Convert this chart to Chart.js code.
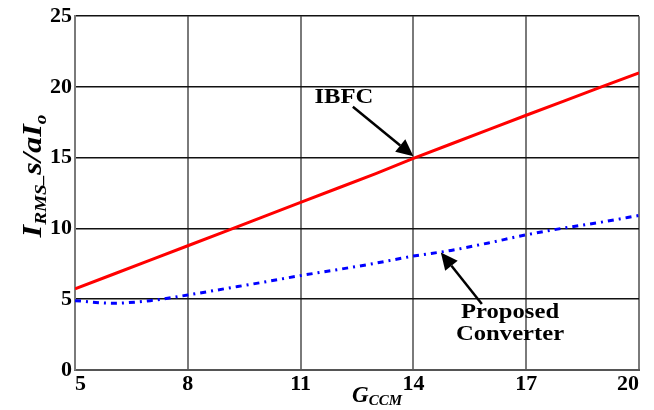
<!DOCTYPE html>
<html lang="en">
  <head>
    <meta charset="UTF-8" />
    <title>IRMS vs GCCM</title>
    <script src="https://cdn.jsdelivr.net/npm/chart.js"></script>
    <style>
      html, body {
        margin: 0;
        padding: 0;
        background: white;
      }
      #wrap {
        width: 654px;
        height: 410px;
      }
    </style>
  </head>
  <body>
    <div id="wrap"><canvas id="chart" width="654" height="410"></canvas></div>

    <script>
      const gValues = [5, 6, 7, 8, 9, 10, 11, 12, 13, 14, 15, 16, 17, 18, 19, 20];
      const ibfc = [5.74, 6.75, 7.77, 8.78, 9.8, 10.82, 11.84, 12.86, 13.88, 14.95, 15.97, 16.98, 18.0, 19.0, 20.0, 21.0];
      const proposed = [4.9, 4.72, 4.9, 5.3, 5.75, 6.2, 6.67, 7.1, 7.55, 8.05, 8.45, 8.98, 9.55, 10.03, 10.45, 10.92];
      const xTicks = [5, 8, 11, 14, 17, 20];
      const yTicks = [0, 5, 10, 15, 20, 25];

      const serif = "'Liberation Serif', 'Times New Roman', serif";

      function arrow(ctx, x1, y1, x2, y2) {
        const ang = Math.atan2(y2 - y1, x2 - x1);
        const head = 17;
        const hw = 8;
        const bx = x2 - head * Math.cos(ang);
        const by = y2 - head * Math.sin(ang);
        ctx.strokeStyle = "black";
        ctx.fillStyle = "black";
        ctx.lineWidth = 2.5;
        ctx.beginPath();
        ctx.moveTo(x1, y1);
        ctx.lineTo(bx, by);
        ctx.stroke();
        ctx.beginPath();
        ctx.moveTo(x2, y2);
        ctx.lineTo(bx + hw * Math.sin(ang), by - hw * Math.cos(ang));
        ctx.lineTo(bx - hw * Math.sin(ang), by + hw * Math.cos(ang));
        ctx.closePath();
        ctx.fill();
      }

      // text pieces [text, size, baselineShift] centred on cx
      function richText(ctx, parts, cx, baseY) {
        let total = 0;
        parts.forEach((p) => {
          ctx.font = "italic bold " + p[1] + "px " + serif;
          total += ctx.measureText(p[0]).width;
        });
        let x = cx - total / 2;
        ctx.textAlign = "left";
        ctx.textBaseline = "alphabetic";
        parts.forEach((p) => {
          ctx.font = "italic bold " + p[1] + "px " + serif;
          ctx.fillText(p[0], x, baseY + p[2]);
          x += ctx.measureText(p[0]).width;
        });
      }

      // wide bold label like the original figure
      function wideLabel(ctx, text, x, y) {
        ctx.save();
        ctx.translate(x, y);
        ctx.scale(1.12, 1);
        ctx.font = "bold 22px " + serif;
        ctx.textAlign = "center";
        ctx.textBaseline = "middle";
        ctx.fillText(text, 0, 0);
        ctx.restore();
      }

      const extras = {
        id: "extras",
        afterDraw(chart) {
          const ctx = chart.ctx;
          const xs = chart.scales.x;
          const ys = chart.scales.y;
          const px = (v) => xs.getPixelForValue(v);
          const py = (v) => ys.getPixelForValue(v);
          ctx.save();
          ctx.fillStyle = "black";

          // axis titles
          richText(ctx, [["G", 23, 0], ["CCM", 15, 3]], 377, 402);
          ctx.save();
          ctx.translate(41, 176);
          ctx.rotate(-Math.PI / 2);
          ctx.scale(1.2, 1);
          richText(ctx, [["I", 27, 0], ["RMS", 16, 5], ["_", 16, 1], ["s/aI", 27, 0], ["o", 16, 5]], 0, 0);
          ctx.restore();

          // annotations
          wideLabel(ctx, "IBFC", px(12.15), py(19.25));
          arrow(ctx, px(12.39), py(18.6), px(14.0), py(15.1));

          wideLabel(ctx, "Proposed", px(16.57), py(4.1));
          wideLabel(ctx, "Converter", px(16.57), py(2.55));
          arrow(ctx, px(15.82), py(4.67), px(14.73), py(8.3));
          ctx.restore();
        },
      };

      new Chart(document.getElementById("chart"), {
        type: "line",
        data: {
          datasets: [
            {
              label: "IBFC",
              data: gValues.map((g, i) => ({ x: g, y: ibfc[i] })),
              borderColor: "#ff0000",
              borderWidth: 3,
              pointRadius: 0,
              fill: false,
            },
            {
              label: "Proposed Converter",
              data: gValues.map((g, i) => ({ x: g, y: proposed[i] })),
              borderColor: "#0000ff",
              borderWidth: 3,
              borderDash: [6, 5, 2, 5],
              pointRadius: 0,
              cubicInterpolationMode: "monotone",
              fill: false,
            },
          ],
        },
        options: {
          responsive: false,
          animation: false,
          layout: { padding: { left: 0, right: 15, top: 12, bottom: 0 } },
          plugins: {
            legend: { display: false },
            tooltip: { enabled: false },
          },
          scales: {
            x: {
              type: "linear",
              min: 5,
              max: 20,
              afterBuildTicks: (s) => {
                s.ticks = xTicks.map((v) => ({ value: v }));
              },
              afterFit: (s) => {
                s.height = 40;
                s.paddingLeft = 0;
                s.paddingRight = 0;
              },
              grid: { color: "#7a7a7a", lineWidth: 2, drawTicks: false },
              border: { color: "#555555", width: 2 },
              ticks: {
                align: "inner",
                padding: 1,
                maxRotation: 0,
                color: "black",
                font: { family: serif, size: 22, weight: "bold" },
              },
            },
            y: {
              min: 0,
              max: 25,
              afterBuildTicks: (s) => {
                s.ticks = yTicks.map((v) => ({ value: v }));
              },
              afterFit: (s) => {
                s.width = 75;
              },
              grid: { color: "#111111", lineWidth: 1.5, drawTicks: false },
              border: { color: "#7a7a7a", width: 2 },
              ticks: {
                padding: 3,
                color: "black",
                font: { family: serif, size: 22, weight: "bold" },
              },
            },
          },
        },
        plugins: [extras],
      });
    </script>
  </body>
</html>
